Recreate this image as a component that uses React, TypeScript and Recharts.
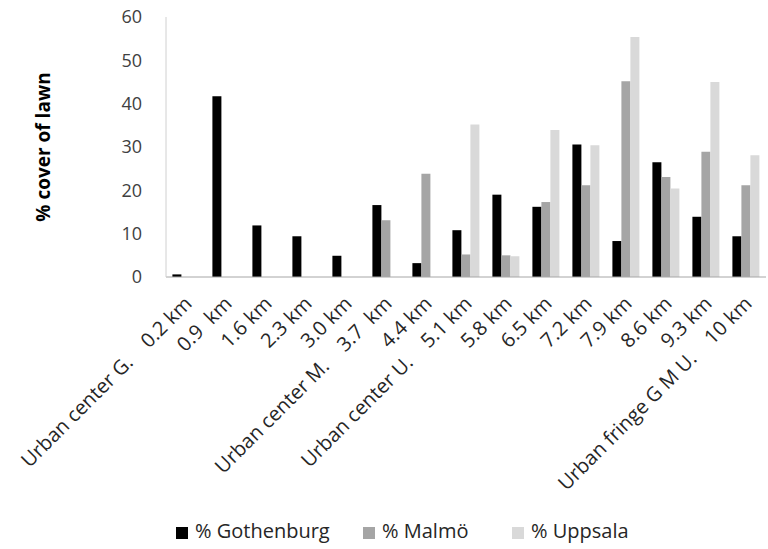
import React from "react";
import { BarChart, Bar, XAxis, YAxis, Legend, Label } from "recharts";

const categories = [
  "Urban center G.    0.2 km",
  "0.9  km",
  "1.6 km",
  "2.3 km",
  "3.0 km",
  "Urban center M.    3.7  km",
  "4.4 km",
  "Urban center U.    5.1 km",
  "5.8 km",
  "6.5 km",
  "7.2 km",
  "7.9 km",
  "8.6 km",
  "9.3 km",
  "Urban fringe G M U.    10 km",
];
const gothenburg = [0.6, 41.7, 11.9, 9.4, 4.9, 16.6, 3.2, 10.8, 19.0, 16.2, 30.6, 8.3, 26.5, 13.9, 9.4];
const malmo = [0, 0, 0, 0, 0, 13.1, 23.8, 5.2, 5.0, 17.3, 21.2, 45.2, 23.1, 28.9, 21.2];
const uppsala = [0, 0, 0, 0, 0, 0, 0, 35.2, 4.8, 33.9, 30.4, 55.4, 20.4, 45.0, 28.1];
const yTicks = [0, 10, 20, 30, 40, 50, 60];

const data = categories.map((name, i) => ({
  name,
  g: gothenburg[i],
  m: malmo[i],
  u: uppsala[i],
}));

const series = [
  { key: "g", label: "% Gothenburg", color: "#000000", w: 187 },
  { key: "m", label: "% Malmö", color: "#a5a5a5", w: 149 },
  { key: "u", label: "% Uppsala", color: "#d9d9d9", w: 130 },
];

const FONT = "'Open Sans', sans-serif";

const XTick = ({ x, y, payload }: any) => (
  <text
    x={x + 7}
    y={y + 20}
    textAnchor="end"
    transform={`rotate(-45, ${x + 7}, ${y + 20})`}
    fontSize={20}
    fill="#262626"
    fontFamily={FONT}
    style={{ whiteSpace: "pre" }}
  >
    {payload.value}
  </text>
);

const LegendContent = () => (
  <div style={{ display: "flex", paddingLeft: 176, paddingTop: 9, fontFamily: FONT, fontSize: 20, lineHeight: "26px", color: "#262626" }}>
    {series.map((s) => (
      <span key={s.key} style={{ display: "flex", alignItems: "center", gap: 7, width: s.w }}>
        <span style={{ width: 12, height: 12, background: s.color, display: "inline-block", marginTop: 3 }} />
        {s.label}
      </span>
    ))}
  </div>
);

export default function App() {
  return (
    <div style={{ position: "absolute", left: 0, top: 0, background: "#fff" }}>
      <BarChart
        width={768}
        height={549}
        data={data}
        margin={{ top: 17, right: 2, left: 0, bottom: 0 }}
        barCategoryGap="16%"
        barGap={0}
      >
        <XAxis
          dataKey="name"
          interval={0}
          height={232}
          tick={<XTick />}
          tickLine={false}
          axisLine={{ stroke: "#a6a6a6" }}
        />
        <YAxis
          width={166}
          domain={[0, 60]}
          ticks={yTicks}
          tickLine={false}
          axisLine={{ stroke: "#d0d0d0" }}
          tickMargin={18}
          tick={{ fontSize: 18, fill: "#404040", fontFamily: FONT }}
        >
          <Label
            value="% cover of lawn"
            angle={-90}
            position="center"
            dx={-40}
            style={{ fontSize: 19, fontWeight: "bold", fill: "#000", fontFamily: FONT }}
          />
        </YAxis>
        <Legend verticalAlign="bottom" height={40} content={<LegendContent />} />
        {series.map((s) => (
          <Bar key={s.key} dataKey={s.key} fill={s.color} isAnimationActive={false} />
        ))}
      </BarChart>
    </div>
  );
}
